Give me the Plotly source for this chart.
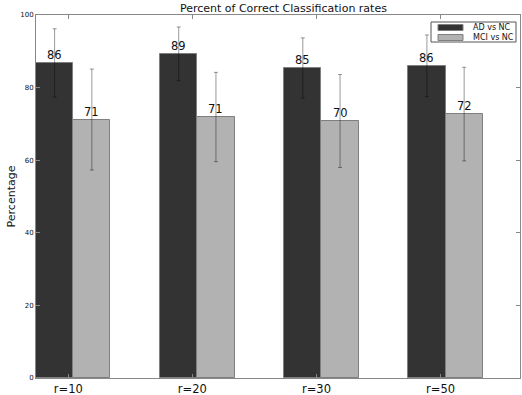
import numpy as np
import plotly.graph_objects as go

categories = ["r=10", "r=20", "r=30", "r=50"]
series_names = ["AD vs NC", "MCI vs NC"]
ad_values = [86.8, 89.3, 85.4, 86.0]
ad_errors = [9.4, 7.4, 8.3, 8.5]
mci_values = [71.2, 71.9, 70.8, 72.7]
mci_errors = [13.9, 12.3, 12.8, 12.9]
y_ticks = [0, 20, 40, 60, 80, 100]

idx = np.arange(len(categories))
width = 0.3
err_color = "rgba(0,0,0,0.4)"
colors = ["#333333", "#b2b2b2"]
edge = "#7f7f7f"

W, H = 522, 395
ML, MR, MT, MB = 36, 2, 15, 17

fig = go.Figure()
annotations = []
for k, (vals, errs) in enumerate([(ad_values, ad_errors), (mci_values, mci_errors)]):
    fig.add_trace(go.Bar(
        x=idx, y=vals, width=width, offset=width * k, name=series_names[k],
        marker=dict(color=colors[k], line=dict(color=edge, width=1)),
        error_y=dict(type="data", array=errs, color=err_color, thickness=1, width=2),
        showlegend=False,
    ))
    for i, v in zip(idx, vals):
        annotations.append(dict(text=str(int(v)), x=i + width * k + width / 2, y=v,
                                xref="x", yref="y", xanchor="center", yanchor="bottom",
                                showarrow=False, borderpad=0, yshift=0,
                                font=dict(size=11.5, color="#111")))

# compact legend box (matplotlib style), positioned in pixel terms of the page
def px(x):
    return (x - ML) / (W - ML - MR)
def py(y):
    return (H - MB - y) / (H - MT - MB)

shapes = [dict(type="rect", xref="paper", yref="paper", x0=px(431), x1=px(516), y0=py(42), y1=py(22),
               line=dict(color="#555", width=1), fillcolor="white", layer="above")]
for k, name in enumerate(series_names):
    yc = 27.5 + 10 * k
    shapes.append(dict(type="rect", xref="paper", yref="paper", x0=px(438), x1=px(463),
                       y0=py(yc + 3), y1=py(yc - 3), fillcolor=colors[k],
                       line=dict(color=edge, width=1), layer="above"))
    annotations.append(dict(text=name, xref="paper", yref="paper", x=px(471), y=py(yc),
                            xanchor="left", yanchor="middle", showarrow=False,
                            font=dict(size=8, color="#111")))

fig.update_layout(
    width=W, height=H,
    margin=dict(l=ML, r=MR, t=MT, b=MB, autoexpand=False),
    paper_bgcolor="white", plot_bgcolor="white",
    font=dict(family="DejaVu Sans", color="#111"),
    title=dict(text="Percent of Correct Classification rates", x=0.543, xanchor="center",
               y=0.98, yanchor="middle", yref="container", font=dict(size=11)),
    showlegend=False,
    bargap=0,
    shapes=shapes,
    annotations=annotations,
)
fig.update_xaxes(
    range=[0, 3.9], tickvals=idx + 0.26, ticktext=categories,
    showline=True, linecolor="#888", linewidth=1, mirror="ticks",
    ticks="inside", ticklen=4, tickcolor="#888", showgrid=False, zeroline=False,
    tickfont=dict(size=11.5), ticklabelstandoff=0, automargin=False,
)
fig.update_yaxes(
    range=[0, 100], tickvals=y_ticks, ticktext=[str(t) for t in y_ticks],
    showline=True, linecolor="#888", linewidth=1, mirror="ticks",
    ticks="inside", ticklen=4, tickcolor="#888", showgrid=False, zeroline=False,
    tickfont=dict(size=7), automargin=False,
    title=dict(text="Percentage", font=dict(size=11), standoff=2),
)
fig.write_html("out.html", config={"displayModeBar": False},
               post_script="document.body.style.margin='0';document.body.style.overflow='hidden';")
